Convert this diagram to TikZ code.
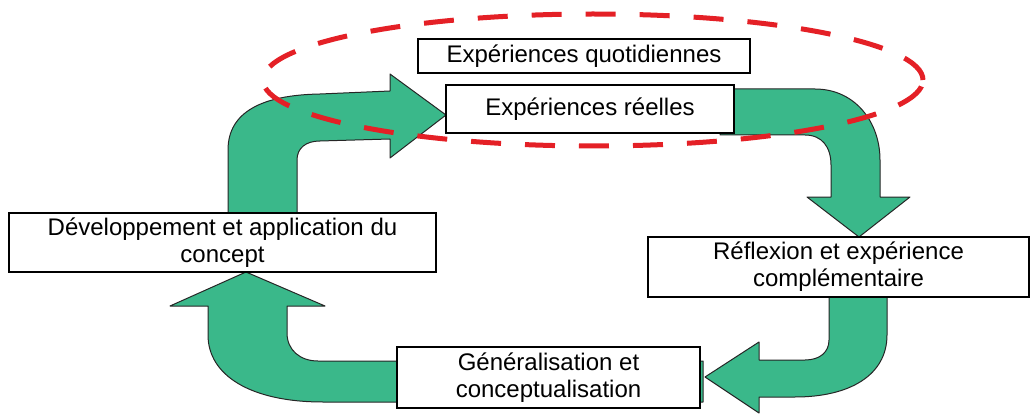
\documentclass[tikz,border=0pt]{standalone}
\usepackage{fontspec}
\setmainfont{Liberation Sans}
\definecolor{gruen}{RGB}{58,184,138}
\definecolor{rot}{RGB}{228,32,38}
\tikzset{
	kasten/.style={draw=black,line width=1.3pt,fill=white,inner sep=0pt,align=center,
		font=\fontsize{24}{27}\selectfont},
	block/.style={fill=gruen,draw=black!85,line width=1pt,line join=round}
}

\begin{document}
\begin{tikzpicture}[x=1pt,y=-1pt]
\useasboundingbox (0,0) rectangle (1031,417);
\coordinate (k1) at (584,56);
\coordinate (k2) at (590,109);
\coordinate (k3) at (222.5,242.5);
\coordinate (k4) at (838.5,267);
\coordinate (k5) at (548.5,377.5);
\coordinate (mitte) at (593,80);
\draw[block] (228,215) -- (228,150) .. controls (228,112) and (262,95) .. (320,94)
	-- (390,91) -- (390,74) -- (446,115) -- (390,158) -- (390,139) -- (320,141)
	.. controls (306,141) and (297,148) .. (297,160) -- (297,215) -- cycle;
\draw[block] (720,89) -- (815,89) .. controls (855,89) and (880,122) .. (880,160)
	-- (880,197) -- (910,197) -- (859,237) -- (807,197) -- (831,197) -- (831,165)
	.. controls (831,147) and (822,135) .. (805,135) -- (720,135) -- cycle;
\draw[block] (829,285) -- (829,340) .. controls (829,352) and (820,360) .. (805,360)
	-- (759,360) -- (759,342) -- (705,377) -- (759,413) -- (759,397) -- (795,397)
	.. controls (850,397) and (887,375) .. (887,335) -- (887,285) -- cycle;
\draw[block] (703,361) -- (318,361) .. controls (300,361) and (287,350) .. (287,333)
	-- (287,306) -- (325,306) -- (246,272) -- (170,306) -- (208,306) -- (208,335)
	.. controls (208,375) and (250,402) .. (323,402) -- (703,402) -- cycle;
\draw[rot,line width=5pt,dash pattern=on 30pt off 24pt] (mitte) ellipse [x radius=330pt,y radius=66pt];
\node[kasten,minimum width=332pt,minimum height=34pt] (quot) at (k1) {Expériences quotidiennes};
\node[kasten,minimum width=288pt,minimum height=48pt] (reel) at (k2) {Expériences réelles};
\node[kasten,minimum width=427pt,minimum height=59pt] (dev) at (k3) {Développement et application du\\concept};
\node[kasten,minimum width=381pt,minimum height=60pt] (refl) at (k4) {Réflexion et expérience\\complémentaire};
\node[kasten,minimum width=303pt,minimum height=61pt] (gen) at (k5) {Généralisation et\\conceptualisation};
\end{tikzpicture}
\end{document}
